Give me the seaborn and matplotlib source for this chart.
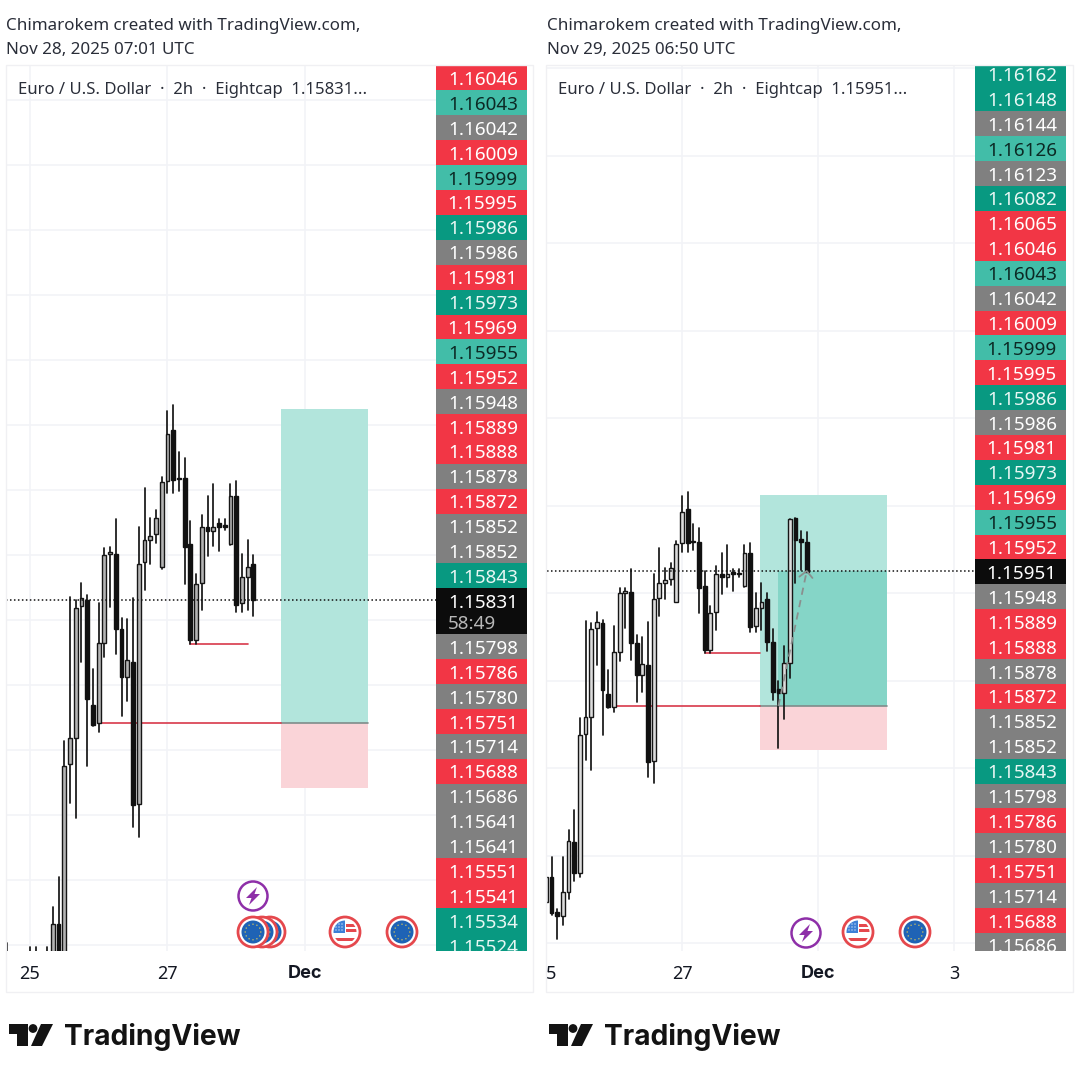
import numpy as np
import pandas as pd
import matplotlib
matplotlib.use("Agg")
import matplotlib.pyplot as plt
from matplotlib.patches import Circle, Polygon, Rectangle
import seaborn as sns

# candele 2h EURUSD, in 1e-5 (pipette)
opens = [115283, 115214, 115260, 115207, 115195, 115251, 115172, 115161, 115218, 115332,
         115260, 115578, 115618, 115821, 115831, 115669, 115641, 115765, 115901, 115902,
         115787, 115713, 115736, 115517, 115889, 115923, 115932, 115881, 116014, 116093,
         116019, 116018, 115917, 115770, 115857, 115943, 115937, 115949, 115947, 115917,
         115991, 115826, 115866, 115887, 115788, 115681, 115671, 115741, 116072, 116023,
         116018]
highs = [115303, 115283, 115275, 115287, 115297, 115297, 115178, 115297, 115359, 115405,
         115614, 115836, 115831, 115857, 115839, 115725, 115826, 115911, 115913, 115955,
         115804, 115801, 115834, 115943, 116003, 115957, 115969, 116020, 116122, 116131,
         116058, 116049, 115952, 115871, 115962, 115991, 116010, 115956, 115956, 116010,
         116014, 115901, 115923, 115900, 115818, 115700, 115780, 116070, 116072, 116043,
         116039]
lows = [115233, 115199, 115207, 115198, 115188, 115165, 115110, 115142, 115201, 115241,
        115251, 115518, 115495, 115736, 115576, 115637, 115628, 115744, 115820, 115748,
        115652, 115675, 115481, 115467, 115847, 115887, 115919, 115879, 115995, 115995,
        115999, 115856, 115763, 115764, 115816, 115898, 115914, 115906, 115938, 115915,
        115812, 115812, 115815, 115767, 115656, 115547, 115613, 115706, 115924, 115953,
        115949]
closes = [115245, 115260, 115222, 115249, 115251, 115170, 115161, 115218, 115333, 115260,
          115576, 115618, 115818, 115834, 115679, 115639, 115765, 115900, 115905, 115787,
          115713, 115738, 115515, 115887, 115924, 115930, 115957, 116013, 116086, 116016,
          116017, 115913, 115770, 115856, 115943, 115937, 115943, 115944, 115943, 115991,
          115824, 115866, 115881, 115789, 115675, 115671, 115740, 116069, 116022, 116018,
          115949]
# ultima candela del primo screenshot, ancora aperta
n_left = 44
left_last_close = 115831
left_last_low = 115807

target_price = 1.16125
entry_price = 1.15642
stop_price = 1.15541
swing_price = 1.15763
current_left = 1.15831
current_right = 1.15951

# colonne di prezzi a destra
labels_left = ["1.16046", "1.16043", "1.16042", "1.16009", "1.15999", "1.15995", "1.15986", "1.15986",
               "1.15981", "1.15973", "1.15969", "1.15955", "1.15952", "1.15948", "1.15889", "1.15888",
               "1.15878", "1.15872", "1.15852", "1.15852", "1.15843", "1.15831", "1.15798", "1.15786",
               "1.15780", "1.15751", "1.15714", "1.15688", "1.15686", "1.15641", "1.15641", "1.15551",
               "1.15541", "1.15534", "1.15524"]
kinds_left = "rlgrlrdgrdrlrgrrgrggdkgrgrgrgggrrdd"
labels_right = ["1.16162", "1.16148", "1.16144", "1.16126", "1.16123", "1.16082", "1.16065", "1.16046",
                "1.16043", "1.16042", "1.16009", "1.15999", "1.15995", "1.15986", "1.15986", "1.15981",
                "1.15973", "1.15969", "1.15955", "1.15952", "1.15951", "1.15948", "1.15889", "1.15888",
                "1.15878", "1.15872", "1.15852", "1.15852", "1.15843", "1.15798", "1.15786", "1.15780",
                "1.15751", "1.15714", "1.15688", "1.15686"]
kinds_right = "ddglgdrrlgrlrdgrdrlrkgrrgrggdgrgrgrg"

colori = {"r": "#f23645", "l": "#42bda8", "g": "#808080", "d": "#089981", "k": "#0c0c0c"}
testo = {"r": "#ffffff", "l": "#0c2a25", "g": "#ffffff", "d": "#e8f7f4", "k": "#ffffff"}

sns.set_theme(style="white")
plt.rcParams["font.family"] = ["Noto Sans", "DejaVu Sans"]

fig = plt.figure(figsize=(10.8, 10.8), dpi=100, facecolor="white")


def pixel_axes(x0, y0, x1, y1):
    return fig.add_axes([x0 / 1080, 1 - y1 / 1080, (x1 - x0) / 1080, (y1 - y0) / 1080])


def draw_candles(ax, o, h, l, c, fill_up):
    idx = np.arange(len(o))
    wick = pd.DataFrame({"i": np.r_[idx, idx], "price": np.r_[l, h]})
    sns.lineplot(data=wick, x="i", y="price", units="i", estimator=None, color="#161616",
                 lw=1.25, ax=ax, zorder=3, legend=False)
    up = c >= o
    ax.bar(idx[up], (c - o)[up], bottom=o[up], width=0.66, facecolor=fill_up,
           edgecolor="#161616", lw=1.0, zorder=4)
    ax.bar(idx[~up], (o - c)[~up], bottom=c[~up], width=0.66, facecolor="#111111",
           edgecolor="#111111", lw=1.0, zorder=4)


def draw_panel(x0, x1, xlim, ylim, yticks, xticks, xlabels, n, current, box_x, swing_x, entry_x0, fill_up):
    ax = pixel_axes(x0, 65, x1, 951)
    o = np.array(opens[:n]) / 1e5
    h = np.array(highs[:n]) / 1e5
    l = np.array(lows[:n]) / 1e5
    c = np.array(closes[:n]) / 1e5
    if n == n_left:
        c[-1] = left_last_close / 1e5
        l[-1] = left_last_low / 1e5

    # posizione long: prima del prezzo, cosi le candele stanno sopra
    ax.fill_between(box_x, entry_price, target_price, color="#b2e5dc", lw=0, zorder=1)
    ax.fill_between(box_x, stop_price, entry_price, color="#fad4d8", lw=0, zorder=1)
    ax.plot(box_x, [entry_price, entry_price], color="#7f8c8a", lw=1.2, zorder=2)

    draw_candles(ax, o, h, l, c, fill_up)
    ax.plot(swing_x, [swing_price, swing_price], color="#d8384a", lw=1.2, zorder=2)
    ax.plot([entry_x0, box_x[0]], [entry_price, entry_price], color="#d8384a", lw=1.2, zorder=2)
    ax.axhline(current, color="#111111", lw=1.1, ls=(0, (1, 1.6)), zorder=5)

    ax.set_xlim(*xlim)
    ax.set_ylim(*ylim)
    ax.set_yticks(yticks)
    ax.set_xticks(xticks)
    tick_labels = ax.set_xticklabels(xlabels, fontsize=13, color="#131722")
    # Noto Sans qui non ha il grassetto, per Dec uso Inter
    tick_labels[xlabels.index("Dec")].set(family="Inter", fontweight="bold")
    ax.set_yticklabels([])
    ax.set_xlabel("")
    ax.set_ylabel("")
    ax.tick_params(length=0, pad=10)
    ax.grid(True, color="#f2f3f7", lw=1.2)
    ax.set_axisbelow(True)
    for s in ax.spines.values():
        s.set_visible(False)
    ax.patch.set_alpha(0)
    return ax


def draw_stack(x0, x1, labels, kinds, first_top, current_h, countdown=None):
    ax = pixel_axes(x0, 65, x1, 951)
    ax.set_xlim(0, 1)
    ax.set_ylim(951, 65)
    ax.axis("off")
    row_h = 24.9
    heights = np.array([current_h if k == "k" else row_h for k in kinds])
    tops = first_top + np.r_[0, np.cumsum(heights)[:-1]]
    ax.barh(tops + heights / 2, 1, height=heights, color=[colori[k] for k in kinds], lw=0)
    for lab, k, top, hh in zip(labels, kinds, tops, heights):
        cy = top + row_h / 2 if k == "k" else top + hh / 2
        ax.text(0.515, cy, lab, ha="center", va="center_baseline", fontsize=13.6,
                color=testo[k], clip_on=True)
        if k == "k" and countdown:
            ax.text(0.40, cy + 21, countdown, ha="center", va="center_baseline", fontsize=13.6,
                    color="#b8b8b8")


# pannello sinistro
draw_panel(6, 436, (-0.17, 74.87), (1.15291, 1.16654), np.arange(1.153, 1.1665, 0.001),
           [4, 28, 52], ["25", "27", "Dec"], n_left, current_left,
           [47.8, 63.0], [32, 42], 16, "#b4b4b4")
draw_stack(436, 527, labels_left, kinds_left, 65.5, 46, "58:49")

# pannello destro
ax_r = draw_panel(547, 975, (4.19, 79.67), (1.15082, 1.17108), np.arange(1.151, 1.1715, 0.002),
                  [28, 52, 76], ["27", "Dec", "3"], len(opens), current_right,
                  [41.7, 64.1], [32, 41.7], 16, "#dcdcdc")
ax_r.fill_between([45, 64.1], entry_price, current_right, color="#85d5c7", lw=0, zorder=1.5)
ax_r.plot([45, 50], [entry_price, current_right], color="#8a8f8e", lw=1.3, ls=(0, (4, 3)), zorder=6)
ax_r.plot([48.7, 50, 51], [1.15938, current_right, 1.15935], color="#8a8f8e", lw=1.3, zorder=6)
draw_stack(975, 1066, labels_right, kinds_right, 61.5, 24.9)

# livello sopra: testi, cornici, icone e logo in pixel
ov = fig.add_axes([0, 0, 1, 1])
ov.set_xlim(0, 1080)
ov.set_ylim(1080, 0)
ov.axis("off")
ov.patch.set_alpha(0)

for fx0, fx1 in [(6, 533), (546, 1073)]:
    ov.add_patch(Rectangle((fx0, 65), fx1 - fx0, 927, fill=False, ec="#f0f0f3", lw=1))

header = "#2a2e39"
ov.text(6, 26, "Chimarokem created with TradingView.com,", fontsize=12.25, color=header, va="center")
ov.text(6, 50, "Nov 28, 2025 07:01 UTC", fontsize=12.25, color=header, va="center")
ov.text(547, 26, "Chimarokem created with TradingView.com,", fontsize=12.25, color=header, va="center")
ov.text(547, 50, "Nov 29, 2025 06:50 UTC", fontsize=12.25, color=header, va="center")
ov.text(18, 90, "Euro / U.S. Dollar  ·  2h  ·  Eightcap  1.15831...", fontsize=12.0, color=header, va="center")
ov.text(558, 90, "Euro / U.S. Dollar  ·  2h  ·  Eightcap  1.15951...", fontsize=12.0, color=header, va="center")
ov.text(546, 974, "5", fontsize=13, color="#131722", va="center")


def bolt_icon(cx, cy):
    ov.add_patch(Circle((cx, cy), 14.5, fc="white", ec="#8e2fa8", lw=1.8, zorder=5))
    pts = np.array([[4, -9], [-7, 2], [-1.5, 2], [-4, 9], [7, -2], [1.5, -2]])
    ov.add_patch(Polygon(pts + [cx, cy], fc="#8e2fa8", ec="none", zorder=6))


def ring(cx, cy, z):
    ov.add_patch(Circle((cx, cy), 15, fc="white", ec="#e5484d", lw=2.0, zorder=z))


def eu_icon(cx, cy, z=5):
    ring(cx, cy, z)
    ov.add_patch(Circle((cx, cy), 11.5, fc="#1f63b5", ec="none", zorder=z + 0.1))
    for a in np.linspace(0, 2 * np.pi, 12, endpoint=False):
        ov.add_patch(Circle((cx + 7.8 * np.cos(a), cy + 7.8 * np.sin(a)), 0.7, fc="#d9c75a", ec="none",
                            zorder=z + 0.2))


def us_icon(cx, cy, z=5):
    ring(cx, cy, z)
    disc = Circle((cx, cy), 11.5, transform=ov.transData)
    # strisce rosse a destra del cantone e in basso
    for dy, x_from in [(-8.5, 1), (-3, 1), (5.5, -12)]:
        r = ov.add_patch(Rectangle((cx + x_from, cy + dy), 24, 3.2, fc="#e5484d", ec="none", zorder=z + 0.1))
        r.set_clip_path(disc)
    r = ov.add_patch(Rectangle((cx - 12, cy - 12), 12, 12.5, fc="#3d7fd6", ec="none", zorder=z + 0.2))
    r.set_clip_path(disc)
    for dx in (-9, -6, -3):
        for dy in (-8, -5, -2):
            ov.add_patch(Circle((cx + dx, cy + dy), 0.6, fc="white", ec="none", zorder=z + 0.3))


bolt_icon(253, 896)
eu_icon(270, 932, 5)
eu_icon(262, 932, 6)
eu_icon(253, 932, 7)
us_icon(345, 932)
eu_icon(402, 932)
bolt_icon(806, 933)
us_icon(858, 932)
eu_icon(915, 932)


def logo(x, y):
    ov.add_patch(Polygon(np.array([[0, 0], [19, 0], [19, 22], [8, 22], [8, 10], [0, 10]]) + [x, y],
                         fc="#131313", ec="none"))
    ov.add_patch(Circle((x + 24, y + 4.5), 4.4, fc="#131313", ec="none"))
    ov.add_patch(Polygon(np.array([[32, 0], [44, 0], [33, 22], [22, 22]]) + [x, y], fc="#131313", ec="none"))
    ov.text(x + 55, y + 13, "TradingView", fontsize=20.3, fontweight="bold", color="#131313",
            va="center", family="Inter")


logo(9, 1024)
logo(549, 1024)

fig.savefig("out.png", dpi=100, facecolor="white")
